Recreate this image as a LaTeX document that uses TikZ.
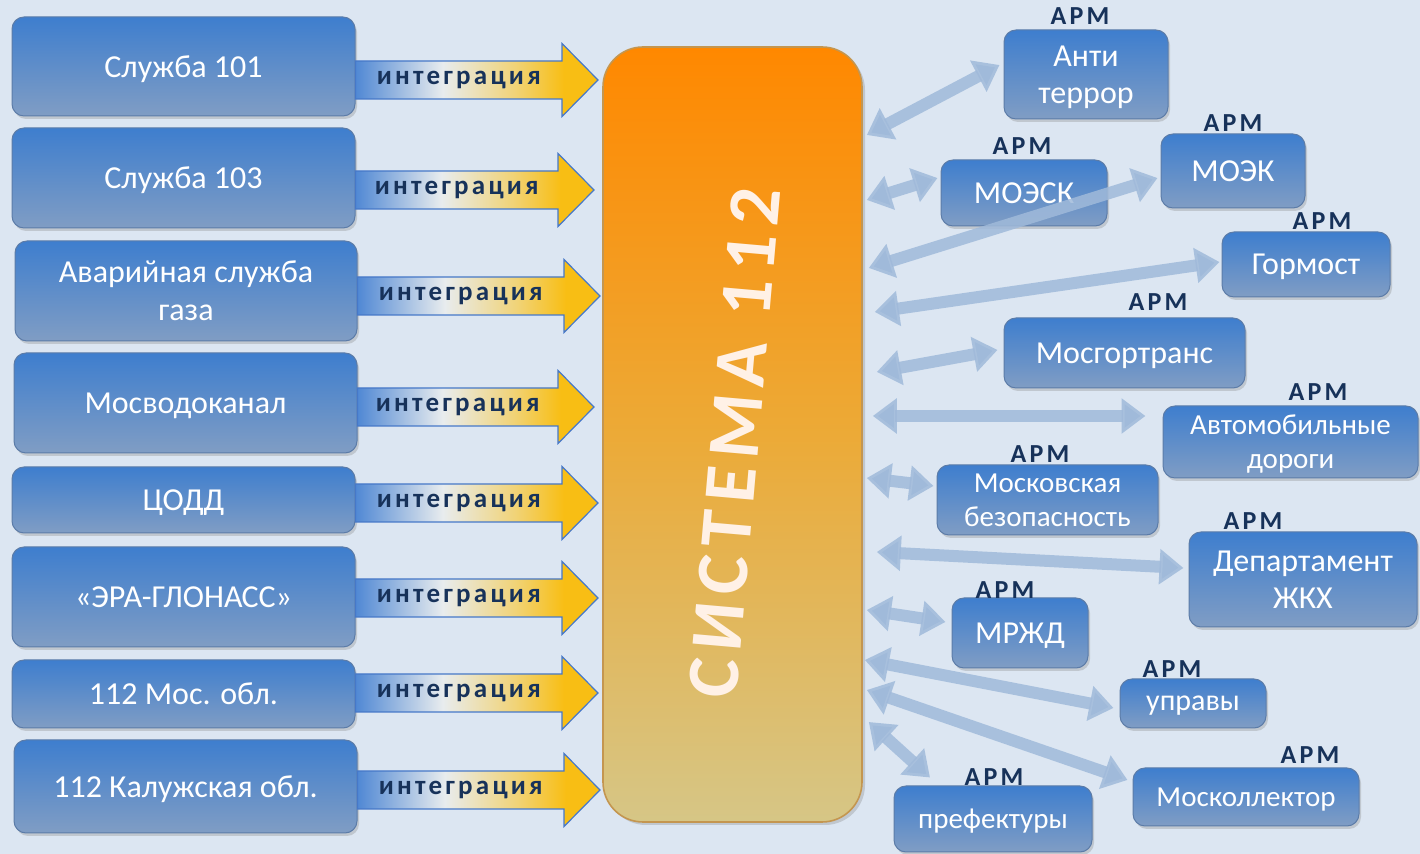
\documentclass[tikz,border=0pt]{standalone}
\usepackage{fontspec}
\setmainfont{Carlito}
\usepackage{tikz}
\usetikzlibrary{arrows.meta}
\usetikzlibrary{calc}
\usetikzlibrary{shadows}

\definecolor{bg}{RGB}{220,230,242}
\definecolor{boxtop}{RGB}{62,126,206}
\definecolor{boxbot}{RGB}{128,157,196}
\definecolor{boxline}{RGB}{92,124,168}
\definecolor{systop}{RGB}{255,136,0}
\definecolor{sysmid}{RGB}{236,170,55}
\definecolor{sysbot}{RGB}{214,198,134}
\definecolor{sysline}{RGB}{196,150,80}
\definecolor{systxt}{RGB}{255,241,230}
\definecolor{navy}{RGB}{23,50,90}
\definecolor{intblue}{RGB}{80,136,212}
\definecolor{intwhite}{RGB}{232,236,238}
\definecolor{intyel}{RGB}{248,190,20}
\definecolor{intline}{RGB}{70,120,200}
\definecolor{linkblue}{RGB}{160,186,218}

\pgfdeclarehorizontalshading{integshade}{100bp}{color(0bp)=(intblue); color(25bp)=(intblue); color(43bp)=(intwhite); color(58bp)=(intyel!55!intwhite); color(68bp)=(intyel); color(100bp)=(intyel)}

\tikzset{
  boxsize/.style 2 args={minimum width=#1*0.5pt, minimum height=#2*0.5pt},
  svc/.style={rounded corners=6pt, top color=boxtop, bottom color=boxbot, draw=boxline, line width=0.5pt,
    text=white, align=center, inner sep=2pt, text depth=0pt, font=\fontsize{16}{19}\selectfont,
    drop shadow={opacity=0.3, shadow xshift=1pt, shadow yshift=-1.5pt}},
  arm/.style={svc, font=\fontsize{15}{17.5}\selectfont},
  big/.style={font=\fontsize{16}{18.5}\selectfont},
  small/.style={font=\fontsize{14.5}{17}\selectfont},
  apm/.style={text=navy, inner sep=0pt, font=\fontsize{13}{13}\selectfont\bfseries\addfontfeatures{LetterSpace=12}},
  sysbox/.style={rounded corners=20pt, top color=systop, bottom color=sysbot, middle color=sysmid,
    draw=sysline, line width=0.8pt, drop shadow={opacity=0.3, shadow xshift=1.5pt, shadow yshift=-1.5pt}},
  systitle/.style={text=systxt, inner sep=0pt, font=\fontsize{37}{37}\selectfont\bfseries\addfontfeatures{LetterSpace=11}},
  integarr/.style={shade, shading=integshade, draw=intline, line width=0.6pt},
  integlbl/.style={text=navy, inner sep=0pt, font=\fontsize{13.5}{14}\selectfont\bfseries\addfontfeatures{LetterSpace=12}},
  link/.style={draw=linkblue, draw opacity=0.85, line width=6pt,
    {Triangle[width=17pt,length=12pt]}-{Triangle[width=17pt,length=12pt]}}
}

% arrow "integration" from a service box (#1) to a tip coordinate (#2)
\newcommand\integ[2]{%
  \coordinate (#2b) at (#1.east |- #2);
  \path[integarr] ([shift={(0,-19)}]#2b) -- ([shift={(-36,-19)}]#2) -- ([shift={(-36,-36.5)}]#2) -- (#2)
    -- ([shift={(-36,36.5)}]#2) -- ([shift={(-36,19)}]#2) -- ([shift={(0,19)}]#2b) -- cycle;
  \node[integlbl] (#2l) at ($(#2b)!0.5!([xshift=-18pt]#2)$) {интеграция};
}

\begin{document}
\begin{tikzpicture}[x=0.5pt, y=-0.5pt]
    \useasboundingbox (0,0) rectangle (1420,854);
    \fill[bg] (0,0) rectangle (1420,854);

    % central block
    \node[sysbox, boxsize={259}{775}] (sys) at (732.5,434.5) {};
    \node[systitle, rotate=85] (title) at (735,443) {СИСТЕМА 112};

    % services on the left
    \node[svc, boxsize={343}{99}] (s1) at (183.5,66.5) {Служба 101};
    \node[svc, boxsize={343}{100}] (s2) at (183.5,178) {Служба 103};
    \node[svc, boxsize={342}{100}] (s3) at (186,291) {Аварийная служба\\газа};
    \node[svc, boxsize={343}{100}] (s4) at (185.5,403) {Мосводоканал};
    \node[svc, boxsize={343}{66}] (s5) at (183.5,500) {ЦОДД};
    \node[svc, boxsize={343}{100}] (s6) at (183.5,597) {«ЭРА-ГЛОНАСС»};
    \node[svc, boxsize={343}{68}] (s7) at (183.5,694) {112 Мос. обл.};
    \node[svc, boxsize={343}{93}] (s8) at (185.5,786.5) {112 Калужская обл.};

    \coordinate (t1) at (598,80);
    \coordinate (t2) at (594,190);
    \coordinate (t3) at (600,296);
    \coordinate (t4) at (594,407);
    \coordinate (t5) at (598,503);
    \coordinate (t6) at (598,598);
    \coordinate (t7) at (598,693);
    \coordinate (t8) at (600,790);
    \foreach \k in {1,...,8}
        \integ{s\k}{t\k};

    % workstations on the right
    \node[arm, big, boxsize={164}{89}] (anti) at (1086,74.5) {Анти\\террор};
    \node[arm, big, boxsize={166}{66}] (moesk) at (1024,193) {МОЭСК};
    \node[arm, big, boxsize={144}{74}] (moek) at (1233,171) {МОЭК};
    \node[arm, big, boxsize={168}{65}] (gormost) at (1306,264.5) {Гормост};
    \node[arm, big, boxsize={241}{70}] (mgt) at (1124.5,353) {Мосгортранс};
    \node[arm, small, boxsize={255}{72}] (avto) at (1290.5,442) {Автомобильные\\дороги};
    \node[arm, small, boxsize={221}{70}] (mbez) at (1047.5,500) {Московская\\безопасность};
    \node[arm, big, boxsize={228}{95}] (zhkh) at (1303,579.5) {Департамент\\ЖКХ};
    \node[arm, big, boxsize={136}{70}] (mrzhd) at (1020,633) {МРЖД};
    \node[arm, boxsize={146}{49}] (upravy) at (1193,703.5) {управы};
    \node[arm, small, boxsize={226}{58}] (mkol) at (1246,797) {Москоллектор};
    \node[arm, small, boxsize={198}{66}] (pref) at (993,819) {префектуры};

    \node[apm] (a-anti) at (1080,16) {АРМ};
    \node[apm] (a-moesk) at (1022,146) {АРМ};
    \node[apm] (a-moek) at (1233,123) {АРМ};
    \node[apm] (a-gormost) at (1322,221) {АРМ};
    \node[apm] (a-mgt) at (1158,302) {АРМ};
    \node[apm] (a-avto) at (1318,392) {АРМ};
    \node[apm] (a-mbez) at (1040,454) {АРМ};
    \node[apm] (a-zhkh) at (1253,521) {АРМ};
    \node[apm] (a-mrzhd) at (1005,590) {АРМ};
    \node[apm] (a-upravy) at (1172,669) {АРМ};
    \node[apm] (a-mkol) at (1310,755) {АРМ};
    \node[apm] (a-pref) at (994,777) {АРМ};

    % two-way links
    \draw[link] ([shift={(4,-299.5)}]sys.east) -- ([shift={(-4,-9.5)}]anti.west);
    \draw[link] ([shift={(4,-234.5)}]sys.east) -- ([shift={(-3,-15)}]moesk.west);
    \draw[link] ([shift={(6,-166.5)}]sys.east) -- ([shift={(-3,7)}]moek.west);
    \draw[link] ([shift={(12,-122.5)}]sys.east) -- ([shift={(-2,-2.5)}]gormost.west);
    \draw[link] ([shift={(14,-62.5)}]sys.east) -- ([shift={(-6,-3)}]mgt.west);
    \draw[link] ([shift={(10,-18.5)}]sys.east) -- ([shift={(-17,-26)}]avto.west);
    \draw[link] ([shift={(4,43.5)}]sys.east) -- ([shift={(-3,-14)}]mbez.west);
    \draw[link] ([shift={(14,117.5)}]sys.east) -- ([shift={(-5,-11.5)}]zhkh.west);
    \draw[link] ([shift={(4,175.5)}]sys.east) -- ([shift={(-6,-11)}]mrzhd.west);
    \draw[link] ([shift={(2,225.5)}]sys.east) -- ([shift={(-6,4.5)}]upravy.west);
    \draw[link] ([shift={(4,255.5)}]sys.east) -- ([shift={(-5,-17)}]mkol.west);
    \draw[link] ([shift={(6,287.5)}]sys.east) -- ([shift={(-63,-8)}]pref.north);
\end{tikzpicture}
\end{document}
